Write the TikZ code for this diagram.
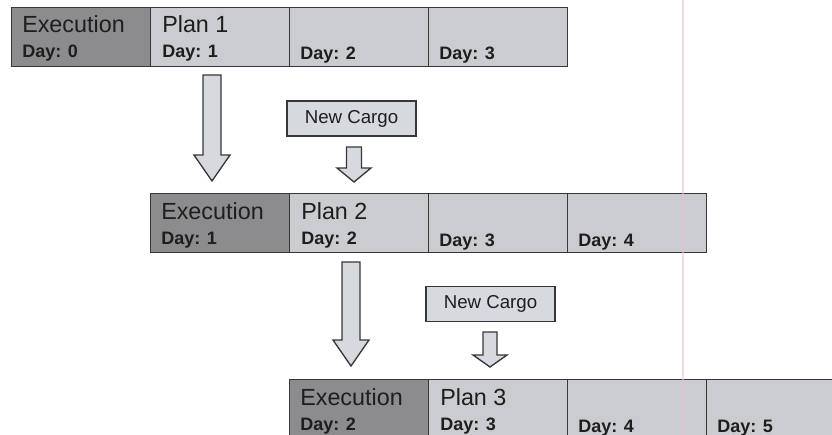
\documentclass[tikz,border=0pt]{standalone}
\usepackage{fontspec}
\setmainfont{Liberation Sans}

\definecolor{execgray}{RGB}{140,140,142}
\definecolor{plangray}{RGB}{202,204,207}
\definecolor{arrowgray}{RGB}{214,218,222}
\definecolor{edgegray}{RGB}{55,55,55}
\definecolor{textgray}{RGB}{30,30,30}
\definecolor{scanpink}{RGB}{236,190,220}

\tikzset{
  execcell/.style={draw=edgegray, fill=execgray, line width=1.1pt,
       minimum width=104.25pt, minimum height=44.25pt,
       anchor=north west, inner sep=0pt},
  plancell/.style={execcell, fill=plangray},
  headtext/.style={anchor=base west, inner sep=0pt, text=textgray,
       font=\fontsize{17.5}{20}\selectfont},
  daytext/.style={anchor=base west, inner sep=0pt, text=textgray,
       font=\bfseries\fontsize{13.5}{16}\selectfont},
  cargobox/.style={draw=edgegray, fill=arrowgray, line width=1pt,
       minimum width=96.75pt, minimum height=26.25pt, inner sep=0pt,
       text=textgray, font=\fontsize{14}{16}\selectfont},
  blockarrow/.style={draw=edgegray, fill=arrowgray, line width=1pt,
       line join=miter}
}

\begin{document}
\begin{tikzpicture}[x=0.75pt, y=-0.75pt]
\useasboundingbox (0,0) rectangle (832,435);
\clip (0,0) rectangle (832,435);

% first plan
\node[execcell] (exec1) at (11,7) {};
\node[plancell] (plan1) at (150,7) {};
\node[plancell] (next1) at (289,7) {};
\node[plancell] (last1) at (428,7) {};
\node[headtext] (exec1head) at (22,33) {Execution};
\node[daytext] (exec1day) at (22,58) {Day: 0};
\node[headtext] (plan1head) at (162,33) {Plan 1};
\node[daytext] (plan1day) at (162,58) {Day: 1};
\node[daytext] (next1day) at (300,60) {Day: 2};
\node[daytext] (last1day) at (439,60) {Day: 3};

% second plan
\node[execcell] (exec2) at (150,193) {};
\node[plancell] (plan2) at (289,193) {};
\node[plancell] (next2) at (428,193) {};
\node[plancell] (last2) at (567,193) {};
\node[headtext] (exec2head) at (161,219) {Execution};
\node[daytext] (exec2day) at (161,244) {Day: 1};
\node[headtext] (plan2head) at (301,219) {Plan 2};
\node[daytext] (plan2day) at (301,244) {Day: 2};
\node[daytext] (next2day) at (439,246) {Day: 3};
\node[daytext] (last2day) at (578,246) {Day: 4};

% third plan
\node[execcell] (exec3) at (289,379) {};
\node[plancell] (plan3) at (428,379) {};
\node[plancell] (next3) at (567,379) {};
\node[plancell] (last3) at (706,379) {};
\node[headtext] (exec3head) at (300,405) {Execution};
\node[daytext] (exec3day) at (300,430) {Day: 2};
\node[headtext] (plan3head) at (440,405) {Plan 3};
\node[daytext] (plan3day) at (440,430) {Day: 3};
\node[daytext] (next3day) at (578,432) {Day: 4};
\node[daytext] (last3day) at (717,432) {Day: 5};

% new cargo
\node[cargobox] (cargo1) at (351.5,118.5) {New Cargo};
\node[cargobox] (cargo2) at (490.5,304) {New Cargo};

% arrows
\draw[blockarrow] (203,75) -- (221,75) -- (221,155) -- (230,155)
  -- (212,181) -- (194,155) -- (203,155) -- cycle;
\draw[blockarrow] (342,262) -- (360,262) -- (360,340) -- (369,340)
  -- (351,366) -- (333,340) -- (342,340) -- cycle;
\draw[blockarrow] (346.5,147) -- (361.5,147) -- (361.5,168) -- (371,168)
  -- (354,182) -- (337,168) -- (346.5,168) -- cycle;
\draw[blockarrow] (483,332) -- (497,332) -- (497,355) -- (507,355)
  -- (490,367) -- (473,355) -- (483,355) -- cycle;

\draw[scanpink, line width=1.2pt, opacity=0.6] (683,0) -- (683,435);
\end{tikzpicture}
\end{document}
